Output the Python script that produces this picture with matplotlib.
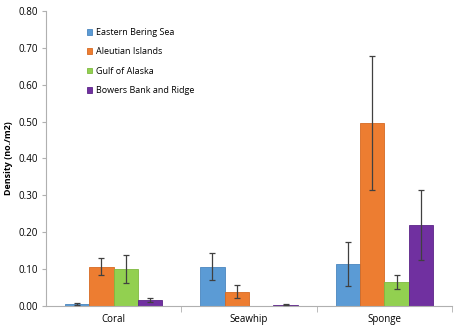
import matplotlib
matplotlib.use("Agg")
import matplotlib.pyplot as plt
import numpy as np

categories = ["Coral", "Seawhip", "Sponge"]
regions = ["Eastern Bering Sea", "Aleutian Islands", "Gulf of Alaska", "Bowers Bank and Ridge"]

# density per region, one list per region (Coral, Seawhip, Sponge)
bering = [0.005, 0.106, 0.113]
aleutian = [0.106, 0.039, 0.495]
gulf = [0.100, 0.000, 0.066]
bowers = [0.016, 0.003, 0.219]

bering_err = [0.002, 0.037, 0.059]
aleutian_err = [0.023, 0.018, 0.182]
gulf_err = [0.037, 0.000, 0.019]
bowers_err = [0.005, 0.001, 0.094]

colors = ["#5B9BD5", "#ED7D31", "#92D050", "#7030A0"]
edges = ["#4A86BE", "#D66A22", "#7FB93F", "#5C2488"]

plt.rcParams["font.family"] = ["Open Sans", "DejaVu Sans"]

fig = plt.figure(figsize=(4.59, 3.30), dpi=100)
ax = fig.add_axes([0.100, 0.073, 0.885, 0.894])

x = np.arange(len(categories))
width = 0.18
series = [bering, aleutian, gulf, bowers]
errs = [bering_err, aleutian_err, gulf_err, bowers_err]
for i, (vals, err) in enumerate(zip(series, errs)):
    pos = x + (i - 1.5) * width
    ax.bar(pos, vals, width, color=colors[i], edgecolor=edges[i], linewidth=0.6,
           label=regions[i], zorder=2)
    show = np.array(err) > 0
    ax.errorbar(pos[show], np.array(vals)[show], yerr=np.array(err)[show], fmt="none",
                ecolor="#404040", elinewidth=0.9, capsize=2, capthick=0.9, zorder=3)

ax.set_xlim(-0.5, 2.5)
ax.set_ylim(0, 0.8)
ax.set_yticks(np.arange(0, 0.81, 0.1))
ax.set_yticklabels([f"{v:.2f}" for v in np.arange(0, 0.81, 0.1)], fontsize=7)
ax.set_xticks(x)
ax.set_xticklabels(categories, fontsize=7)
ax.set_xticks([0.5, 1.5, 2.5], minor=True)
ax.tick_params(axis="x", which="major", length=0, pad=6)
ax.tick_params(axis="x", which="minor", length=4, color="#B0B0B0")
ax.tick_params(axis="y", length=3, color="#B0B0B0", pad=3)

for s in ["top", "right"]:
    ax.spines[s].set_visible(False)
for s in ["left", "bottom"]:
    ax.spines[s].set_color("#B0B0B0")
    ax.spines[s].set_linewidth(0.8)

ax.set_ylabel("Density (no./m2)", fontsize=6.5, fontweight="bold", labelpad=4)

ax.legend(loc="upper left", bbox_to_anchor=(0.08, 0.97), frameon=False, fontsize=6.5,
          handlelength=0.6, handleheight=0.6, handletextpad=0.4, labelspacing=1.15)

fig.savefig("out.png", dpi=100)
